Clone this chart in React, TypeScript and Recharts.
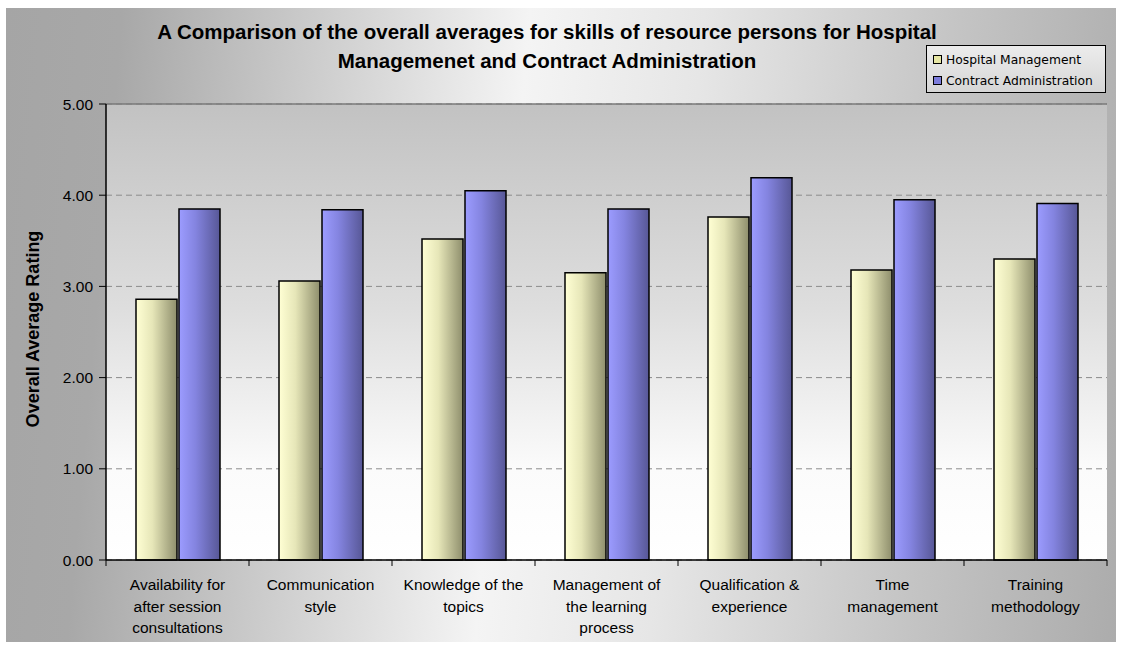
import React from 'react';
import { BarChart, Bar, XAxis, YAxis, CartesianGrid, ReferenceLine } from 'recharts';

// Skill categories (line breaks as drawn under the axis)
const categories = [
  'Availability for\nafter session\nconsultations',
  'Communication\nstyle',
  'Knowledge of the\ntopics',
  'Management of\nthe learning\nprocess',
  'Qualification &\nexperience',
  'Time\nmanagement',
  'Training\nmethodology',
];
const hospitalManagement = [2.86, 3.06, 3.52, 3.15, 3.76, 3.18, 3.3];
const contractAdministration = [3.85, 3.84, 4.05, 3.85, 4.19, 3.95, 3.91];
const yTicks = [0, 1, 2, 3, 4, 5];

const seriesNames = ['Hospital Management', 'Contract Administration'];
const titleLines = [
  'A Comparison of the overall averages for skills of resource persons for Hospital',
  'Managemenet and Contract Administration',
];

const data = categories.map((name, i) => ({
  name,
  hospital: hospitalManagement[i],
  contract: contractAdministration[i],
}));

const W = 1122;
const H = 650;
const PLOT_LEFT = 106;
const PLOT_RIGHT = 1107;
const PLOT_TOP = 104;
const PLOT_BOTTOM = 560;
const BAND = (PLOT_RIGHT - PLOT_LEFT) / categories.length;
const FONT = '"Liberation Sans", Arial, sans-serif';

const CategoryTick = ({ x, y, payload, index }: any) => {
  const lines = String(payload.value).split('\n');
  return (
    <g>
      <line x1={x - BAND / 2} y1={y} x2={x - BAND / 2} y2={y + 6} stroke="#000" strokeWidth={1} />
      {index === categories.length - 1 && (
        <line x1={x + BAND / 2} y1={y} x2={x + BAND / 2} y2={y + 6} stroke="#000" strokeWidth={1} />
      )}
      <text x={x} y={y + 30} textAnchor="middle" fontSize={15.5} fontFamily={FONT} fill="#000">
        {lines.map((l, i) => (
          <tspan key={i} x={x} dy={i === 0 ? 0 : 21.5}>
            {l}
          </tspan>
        ))}
      </text>
    </g>
  );
};

const App = () => {
  return (
    <div style={{ position: 'absolute', left: 0, top: 0, width: W, height: H, background: '#fff' }}>
      <div
        style={{
          position: 'absolute',
          left: 6,
          top: 8,
          width: 1110,
          height: 634,
          background:
            'linear-gradient(95deg, #a5a5a5 0%, #a8a8a8 10%, #cfcfcf 28%, #f4f4f4 45%, #e6e6e6 60%, #c4c4c4 82%, #acacac 100%)',
        }}
      />
      <div style={{ position: 'absolute', left: 0, top: 0 }}>
        <BarChart
          width={W}
          height={H}
          data={data}
          margin={{ top: PLOT_TOP, right: W - PLOT_RIGHT, left: PLOT_LEFT - 50, bottom: 0 }}
          barSize={41}
          barGap={2}
        >
          <defs>
            <linearGradient id="plotBg" x1="0" y1="0" x2="0" y2="1">
              <stop offset="0%" stopColor="#c2c2c2" />
              <stop offset="45%" stopColor="#dedede" />
              <stop offset="80%" stopColor="#fbfbfb" />
              <stop offset="100%" stopColor="#ffffff" />
            </linearGradient>
            <linearGradient id="yellowBar" x1="0" y1="0" x2="1" y2="0">
              <stop offset="0%" stopColor="#ffffd4" />
              <stop offset="40%" stopColor="#e6e6b8" />
              <stop offset="100%" stopColor="#8e8e6c" />
            </linearGradient>
            <linearGradient id="blueBar" x1="0" y1="0" x2="1" y2="0">
              <stop offset="0%" stopColor="#9c9cff" />
              <stop offset="40%" stopColor="#8484e0" />
              <stop offset="100%" stopColor="#575796" />
            </linearGradient>
          </defs>
          <CartesianGrid
            yAxisId="left"
            vertical={false}
            fill="url(#plotBg)"
            fillOpacity={1}
            stroke="#8c8c8c"
            strokeDasharray="6 4"
          />
          <XAxis
            dataKey="name"
            height={H - PLOT_BOTTOM}
            interval={0}
            tickLine={false}
            tickSize={0}
            tickMargin={0}
            axisLine={{ stroke: '#000', strokeWidth: 1.5 }}
            tick={<CategoryTick />}
          />
          <YAxis
            yAxisId="left"
            width={50}
            domain={[0, 5]}
            ticks={yTicks}
            interval={0}
            tickFormatter={(v: number) => v.toFixed(2)}
            tick={{ fill: '#000', fontSize: 15.5, fontFamily: FONT }}
            tickSize={7}
            tickMargin={6}
            tickLine={{ stroke: '#000' }}
            axisLine={{ stroke: '#000', strokeWidth: 1.5 }}
          />
          <YAxis
            yAxisId="right"
            orientation="right"
            width={0}
            domain={[0, 5]}
            tick={false}
            tickLine={false}
            axisLine={{ stroke: '#8a8a8a', strokeWidth: 1.5 }}
          />
          <ReferenceLine yAxisId="left" y={5} stroke="#7a7a7a" strokeWidth={1.5} />
          <Bar
            yAxisId="left"
            dataKey="hospital"
            name={seriesNames[0]}
            fill="url(#yellowBar)"
            stroke="#000"
            strokeWidth={1.5}
            isAnimationActive={false}
          />
          <Bar
            yAxisId="left"
            dataKey="contract"
            name={seriesNames[1]}
            fill="url(#blueBar)"
            stroke="#000"
            strokeWidth={1.5}
            isAnimationActive={false}
          />
        </BarChart>
      </div>

      {/* Title */}
      <div
        style={{
          position: 'absolute',
          left: 0,
          top: 17,
          width: 1094,
          textAlign: 'center',
          fontFamily: FONT,
          fontWeight: 'bold',
          fontSize: 20.5,
          lineHeight: '29px',
          color: '#000',
          whiteSpace: 'nowrap',
        }}
      >
        {titleLines.map((t, i) => (
          <div key={i}>{t}</div>
        ))}
      </div>

      {/* Y axis title */}
      <div
        style={{
          position: 'absolute',
          left: 33,
          top: 329,
          transform: 'translate(-50%, -50%) rotate(-90deg)',
          fontFamily: FONT,
          fontWeight: 'bold',
          fontSize: 18,
          whiteSpace: 'nowrap',
          color: '#000',
        }}
      >
        Overall Average Rating
      </div>

      {/* Legend */}
      <div
        style={{
          position: 'absolute',
          left: 926,
          top: 45,
          width: 180,
          height: 48,
          border: '1px solid #000',
          background: 'linear-gradient(180deg, #ececec, #d6d6d6)',
          fontFamily: '"DejaVu Sans", sans-serif',
          fontSize: 12.3,
          color: '#000',
          boxSizing: 'border-box',
          paddingLeft: 6,
          paddingTop: 3,
        }}
      >
        {seriesNames.map((n, i) => (
          <div key={n} style={{ display: 'flex', alignItems: 'center', height: 21 }}>
            <span
              style={{
                display: 'inline-block',
                width: 7,
                height: 7,
                border: '1px solid #000',
                background: i === 0 ? '#e6e6a4' : '#7c7cdc',
                marginRight: 4,
              }}
            />
            {n}
          </div>
        ))}
      </div>
    </div>
  );
};

export default App;
